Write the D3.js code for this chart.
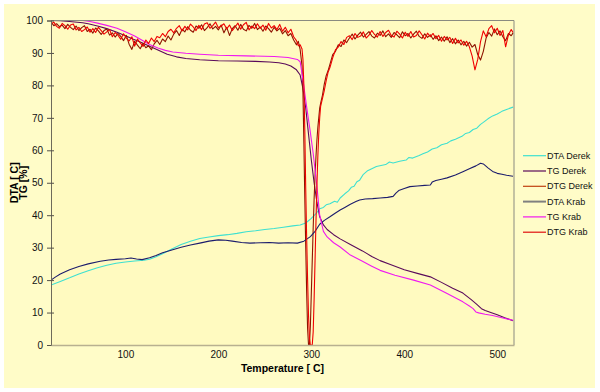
<!DOCTYPE html>
<html><head><meta charset="utf-8">
<script src="https://cdn.jsdelivr.net/npm/d3@7/dist/d3.min.js"></script>
<style>body{margin:0;background:#fff}svg{display:block}</style>
</head><body>
<svg id="c" width="600" height="392"></svg>
<script>
const seriesNames = ["DTA Derek","TG Derek","DTG Derek","DTA Krab","TG Krab","DTG Krab"];
const seriesColors = ["#3EE0D0","#5A0A5A","#8E1400","#1C1C6C","#F018F0","#F00000"];
const legendColors = ["#3EE0D0","#5A0A5A","#C04010","#808080","#F018F0","#E01010"];
const yTicks = [0,10,20,30,40,50,60,70,80,90,100];
const xTicks = [100,200,300,400,500];

const dtaDerek = [[20,18.5],[30,19.6],[40,20.7],[50,21.9],[60,22.9],[70,23.8],[80,24.6],[90,25.2],[100,25.6],[110,25.9],[120,26.1],[126,26.4],[133,27.2],[140,28.1],[150,29.6],[160,31.0],[170,32.0],[180,32.8],[190,33.3],[200,33.7],[210,34.0],[220,34.4],[230,34.9],[240,35.2],[250,35.6],[260,35.9],[270,36.3],[280,36.7],[288,37.0],[294,37.6],[300,39.0],[305,40.5],[309,42.0],[313,42.4],[316,43.2],[320,43.5],[325,44.3],[328,44.0],[331,45.3],[336,46.6],[340,47.5],[343,48.6],[346,48.9],[349,50.3],[352,50.8],[356,52.6],[360,53.6],[365,54.3],[370,55.0],[375,55.3],[380,55.6],[384,56.4],[388,56.1],[395,56.6],[402,57.0],[405,57.8],[409,57.6],[416,58.4],[420,58.9],[425,59.5],[430,60.4],[435,60.8],[440,61.7],[446,62.2],[450,62.9],[455,63.4],[462,64.3],[466,65.2],[470,65.5],[474,66.4],[478,66.8],[482,68.0],[485,68.6],[490,69.7],[495,70.6],[500,71.2],[505,72.0],[510,72.6],[517,73.3]];

const dtaKrab = [[20,20.0],[25,21.0],[30,21.9],[40,23.2],[50,24.2],[60,25.0],[73,25.8],[82,26.2],[90,26.4],[100,26.6],[106,26.8],[112,26.5],[118,26.3],[126,26.9],[133,27.6],[140,28.4],[150,29.3],[160,30.1],[170,30.8],[180,31.4],[190,32.0],[200,32.4],[208,32.3],[215,32.0],[225,31.6],[234,31.4],[245,31.5],[255,31.6],[265,31.4],[275,31.5],[285,31.4],[292,32.0],[299,33.4],[304,35.0],[309,37.2],[314,38.4],[320,39.5],[326,40.7],[331,41.6],[336,42.4],[342,43.4],[348,44.2],[352,44.7],[358,45.0],[366,45.1],[374,45.3],[382,45.5],[388,45.8],[391,46.8],[394,47.6],[400,48.2],[406,48.8],[414,49.0],[422,49.2],[428,49.3],[430,50.2],[434,50.7],[440,51.1],[446,51.5],[455,52.4],[463,53.4],[470,54.3],[477,55.2],[482,56.0],[485,55.8],[490,54.6],[495,53.5],[500,52.9],[505,52.6],[510,52.3],[517,52.0]];

const tgDerek = [[20,100],[30,99.9],[40,99.7],[54,99.3],[60,99.0],[70,98.3],[80,97.5],[91,96.4],[100,95.3],[108,94.3],[116,93.4],[126,92.1],[135,90.9],[145,89.6],[155,88.8],[165,88.3],[180,87.9],[200,87.6],[220,87.5],[240,87.4],[255,87.2],[265,87.0],[272,86.6],[278,86.0],[284,84.8],[288,83.2],[291,79.0],[294,73.0],[297,65.0],[300,57.0],[303,50.0],[306,44.0],[309,39.5],[313,37.0],[317,35.6],[324,34.0],[331,32.7],[342,31.0],[355,29.0],[365,27.3],[374,26.0],[385,24.8],[400,23.2],[415,22.0],[428,21.0],[440,19.3],[452,17.5],[463,16.0],[472,14.0],[478,12.5],[483,11.2],[487,10.6],[493,10.0],[500,9.3],[508,8.4],[517,7.5]];

const tgKrab = [[20,100],[40,100],[54,100],[62,99.7],[70,99.2],[80,98.5],[91,97.6],[100,96.5],[110,95.2],[118,93.9],[126,92.6],[135,91.5],[143,90.8],[151,90.3],[165,89.9],[180,89.6],[200,89.3],[230,89.1],[260,88.9],[275,88.6],[285,88.0],[288,87.3],[291,81.7],[295,73.3],[298.6,66.3],[302,59.0],[306,49.0],[309,40.0],[313,35.0],[317,33.3],[324,31.5],[331,30.2],[342,27.7],[355,25.8],[365,24.3],[374,23.0],[390,21.5],[410,20.0],[428,18.5],[445,16.0],[463,13.3],[470,12.0],[474,11.2],[477,10.2],[480,9.9],[487,9.5],[495,9.1],[505,8.4],[517,7.6]];

// DTG temperatures: before the dip, through the dip, after the dip
const dtgTempsPre = [20,23,26,29,32,35,38,41,44,47,50,53,56,59,62,65,68,71,74,77,80,83,86,89,92,95,98,101,104,107,110,113,116,119,122,125,128,131,134,137,140,143,146,149,152,155,158,161,164,167,170,173,176,179,182,185,188,191,194,197,200,203,206,209,212,215,218,221,224,227,230,233,236,239,242,245,248,251,254,257,260,263,266,269,272,275,278,281,284];
const dtgTempsDip = [286,288,290,291,292,293,294,295,296,297,298,299,300,301,302,303,304,305,306,307,308,309,310,312,314,316,318,320,323,326,329,332,335,338];
const dtgTempsPost = [341,344,347,350,353,356,359,362,365,368,371,374,377,380,383,386,389,392,395,398,401,404,407,410,413,416,419,422,425,428,431,434,437,440,443,446,449,452,455,458,461,464,467,470,473,476,479,482,485,488,491,494,497,500,503,506,509,512,515,517];

const dtgDerekPre = [99.6,98.4,99.0,98.1,98.6,97.5,98.8,97.9,97.2,98.3,96.9,97.8,98.4,96.6,97.3,96.1,97.7,96.8,95.7,96.9,97.4,95.5,96.2,94.9,96.0,95.1,93.8,95.4,92.7,91.1,93.6,92.4,91.3,93.0,91.6,92.2,91.0,92.8,93.9,92.6,94.3,93.5,95.2,94.0,95.8,96.9,95.4,97.3,96.5,98.1,97.0,96.4,98.3,97.6,98.7,96.9,97.8,99.0,97.4,98.2,97.1,98.6,96.2,97.9,95.4,97.5,98.4,97.0,98.8,97.3,96.8,98.5,97.6,99.1,97.2,98.0,96.7,98.3,97.5,96.4,97.9,96.8,97.6,95.9,96.9,95.3,96.0,94.0,92.5];
const dtgDerekDip = [93.6,91.0,86.0,78,62,45,30,16,5,0,0,6,16,26,36,45,52,58,63,67,70,73,74.5,77,80.5,83,84.5,86.5,89.5,90.5,92.5,92.0,94.0,93.2];
const dtgDerekPost = [94.6,95.8,94.3,95.5,96.4,94.9,95.7,96.6,95.2,94.6,96.1,95.4,96.8,95.0,95.9,94.8,96.3,95.6,94.7,96.5,95.3,96.0,94.6,95.8,96.7,95.1,94.5,95.9,94.8,95.6,94.2,95.3,93.8,94.9,93.6,95.0,93.2,94.4,92.8,94.0,92.5,93.6,92.1,93.3,91.8,92.6,89.5,87.8,90.5,94.6,96.3,95.2,97.4,95.6,96.8,95.0,93.8,96.0,95.3,96.2];

const dtgKrabPre = [98.9,99.5,98.2,97.6,99.1,98.4,97.3,98.6,98.9,97.1,97.9,96.6,97.2,98.0,96.4,97.5,96.3,97.9,96.9,95.8,96.5,97.2,95.0,96.3,95.5,94.2,95.9,94.6,93.7,95.0,92.1,94.3,93.1,92.0,94.0,92.9,94.6,93.5,95.1,94.7,96.0,95.0,96.6,97.3,96.2,97.6,98.4,96.8,98.2,97.1,98.9,98.0,96.9,98.5,97.2,98.9,99.3,97.6,98.4,99.5,97.8,98.3,99.0,97.4,98.6,96.9,98.0,99.2,97.3,98.7,99.4,97.1,98.3,97.5,99.0,97.6,98.6,97.0,99.1,97.7,98.4,97.2,98.8,96.7,97.9,96.2,97.3,95.0,93.8];
const dtgKrabDip = [92.2,92.5,91.2,88,80,66,48,33,20,9,2,0,0,0,4,14,26,38,49,58,65,70,73.5,76,78.5,81.5,84,85.5,88.5,91.0,91.8,93.5,92.6,94.8];
const dtgKrabPost = [95.3,94.1,96.0,94.8,95.2,96.5,94.6,95.5,96.9,95.7,94.9,96.6,95.1,96.3,97.0,95.4,94.9,96.7,95.8,94.6,96.4,95.1,96.6,94.9,95.4,96.8,95.6,94.3,96.1,95.0,96.0,94.4,95.4,93.6,95.1,94.0,94.8,92.9,94.5,93.1,94.0,92.4,93.6,91.9,89.0,84.8,88.0,93.5,96.8,95.0,97.5,98.4,96.2,97.6,95.4,96.9,91.9,95.6,97.2,96.3];

const svg = d3.select("#c");
const L = 51, R = 514, T = 20.5, B = 345;
const x = d3.scaleLinear().domain([20,518]).range([L,R]);
const y = d3.scaleLinear().domain([0,100]).range([B,T]);

svg.append("rect").attr("x",0).attr("y",0).attr("width",600).attr("height",392).attr("fill","#fff");
svg.append("rect").attr("x",4).attr("y",4).attr("width",591).attr("height",384).attr("fill","#FFFCC8");
svg.append("rect").attr("x",L).attr("y",T).attr("width",R-L).attr("height",B-T).attr("fill","#FFFAC0");

svg.append("defs").append("clipPath").attr("id","clip").append("rect")
  .attr("x",L).attr("y",T-1).attr("width",R-L).attr("height",B-T+2);

const line = d3.line().x(d=>x(d[0])).y(d=>y(d[1]));
const dtgTemps = dtgTempsPre.concat(dtgTempsDip, dtgTempsPost);
const dtgDerek = dtgDerekPre.concat(dtgDerekDip, dtgDerekPost);
const dtgKrab = dtgKrabPre.concat(dtgKrabDip, dtgKrabPost);
const dtgD = dtgTemps.map((t,i)=>[t,dtgDerek[i]]);
const dtgK = dtgTemps.map((t,i)=>[t,dtgKrab[i]]);
const allSeries = [dtaDerek,tgDerek,dtgD,dtaKrab,tgKrab,dtgK];

const g = svg.append("g").attr("clip-path","url(#clip)");
allSeries.forEach((s,i)=>{
  g.append("path").datum(s).attr("d",line).attr("fill","none")
   .attr("stroke",seriesColors[i]).attr("stroke-width",1.1).attr("stroke-linejoin","round");
});

// frame
svg.append("line").attr("x1",L).attr("x2",R).attr("y1",T).attr("y2",T).attr("stroke","#8a8a80");
svg.append("line").attr("x1",R).attr("x2",R).attr("y1",T).attr("y2",B).attr("stroke","#8a8a80");

// y axis
const ya = svg.append("g").attr("transform",`translate(${L},0)`)
  .call(d3.axisLeft(y).tickValues(yTicks).tickSize(4).tickPadding(6).tickFormat(d3.format("d")));
ya.select(".domain").attr("stroke","#6e6a5a");
ya.selectAll(".tick line").attr("x1",3).attr("x2",-4).attr("stroke","#55524a");
ya.selectAll("text").attr("font-family","Arial, 'Liberation Sans', sans-serif").attr("font-size",10).attr("fill","#111").attr("x",-8);

// x axis
const xa = svg.append("g").attr("transform",`translate(0,${B})`)
  .call(d3.axisBottom(x).tickValues(xTicks).tickSize(0).tickPadding(6).tickFormat(d3.format("d")));
xa.select(".domain").attr("stroke","#b8b090").attr("stroke-width",1.5);
xa.selectAll("text").attr("font-family","Arial, 'Liberation Sans', sans-serif").attr("font-size",10).attr("fill","#111");

// titles
svg.append("text").attr("x",(L+R)/2).attr("y",372).attr("text-anchor","middle")
  .attr("font-family","Arial, 'Liberation Sans', sans-serif").attr("font-weight","bold").attr("font-size",10.5)
  .text("Temperature [ C]");
const yt = svg.append("text").attr("transform",`translate(0,${(T+B)/2}) rotate(-90)`)
  .attr("text-anchor","middle").attr("font-family","Arial, 'Liberation Sans', sans-serif")
  .attr("font-weight","bold").attr("font-size",10.5);
yt.append("tspan").attr("x",0).attr("y",17.5).text("DTA [ C]");
yt.append("tspan").attr("x",0).attr("y",26.5).text("TG [%]");

// legend
const lg = svg.append("g");
seriesNames.forEach((n,i)=>{
  const yy = 155.7 + i*15.3;
  lg.append("line").attr("x1",523).attr("x2",546).attr("y1",yy).attr("y2",yy)
    .attr("stroke",legendColors[i]).attr("stroke-width", i===3?2:1.2);
  lg.append("text").attr("x",547).attr("y",yy).attr("dy","0.35em")
    .attr("font-family","Arial, 'Liberation Sans', sans-serif").attr("font-size",9).attr("fill","#111").text(n);
});
</script>
</body></html>
